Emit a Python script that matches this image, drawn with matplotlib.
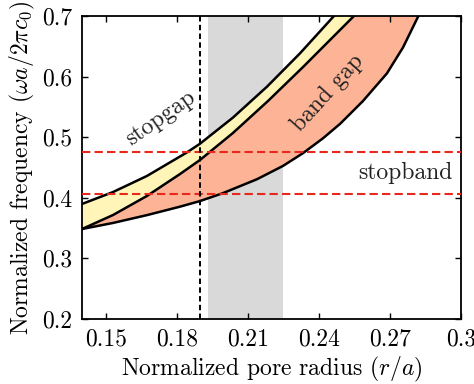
import numpy as np
import matplotlib
matplotlib.use('Agg')
import matplotlib.pyplot as plt

plt.rcParams['font.family'] = 'serif'
plt.rcParams['font.serif'] = ['cmr10']
plt.rcParams['mathtext.fontset'] = 'cm'
plt.rcParams['axes.formatter.use_mathtext'] = True

# Band edges vs normalized pore radius
upper_x = [0.140, 0.1531, 0.1674, 0.1843, 0.1898, 0.2037, 0.2181, 0.2320, 0.2465]
upper_y = [0.3898, 0.4095, 0.4360, 0.4749, 0.4892, 0.5323, 0.5834, 0.6383, 0.7006]

middle_x = [0.140, 0.1531, 0.1674, 0.1814, 0.1898, 0.2037, 0.2185, 0.2333, 0.2548]
middle_y = [0.3485, 0.3716, 0.4030, 0.4393, 0.4624, 0.5069, 0.5597, 0.6158, 0.7000]

lower_x = [0.140, 0.1531, 0.1674, 0.1814, 0.1898, 0.1995, 0.2139, 0.2248, 0.2333,
           0.2417, 0.2489, 0.2586, 0.2687, 0.2755, 0.2820]
lower_y = [0.3485, 0.3585, 0.3714, 0.3854, 0.3946, 0.4077, 0.4307, 0.4525, 0.4737,
           0.4981, 0.5219, 0.5597, 0.6052, 0.6480, 0.7000]

radius_mark = 0.19
window = (0.193, 0.225)
stopband = (0.407, 0.476)

xticks = [0.15, 0.18, 0.21, 0.24, 0.27, 0.30]
xticklabels = ['0.15', '0.18', '0.21', '0.24', '0.27', '0.3']
yticks = [0.2, 0.3, 0.4, 0.5, 0.6, 0.7]
yticklabels = ['0.2', '0.3', '0.4', '0.5', '0.6', '0.7']

fig = plt.figure(figsize=(4.74, 3.84), dpi=100)
ax = fig.add_axes([0.173, 0.1693, 0.7996, 0.789])

ax.axvspan(window[0], window[1], color='#d9d9d9', lw=0, zorder=0)

ax.fill(np.concatenate([upper_x, middle_x[::-1]]),
        np.concatenate([upper_y, middle_y[::-1]]),
        color='#fff5b8', lw=0, zorder=1)
ax.fill(np.concatenate([middle_x, lower_x[::-1]]),
        np.concatenate([middle_y, lower_y[::-1]]),
        color='#fdb496', lw=0, zorder=1)

for xs, ys in [(upper_x, upper_y), (middle_x, middle_y), (lower_x, lower_y)]:
    ax.plot(xs, ys, color='black', lw=1.8, zorder=3,
            solid_capstyle='round', solid_joinstyle='round')

for yv in stopband:
    ax.axhline(yv, color='#e8281c', lw=1.5, ls=(0, (4, 2)), zorder=4)
ax.axvline(radius_mark, color='black', lw=1.4, ls=(0, (2.8, 1.7)), zorder=4)

ax.text(0.173, 0.532, 'stopgap', rotation=35, ha='center', va='center',
        fontsize=17, color='#222222')
ax.text(0.2438, 0.573, 'band gap', rotation=48, ha='center', va='center',
        fontsize=17, color='#222222')
ax.text(0.2966, 0.441, 'stopband', ha='right', va='center',
        fontsize=17, color='#222222')

ax.set_xlim(0.14, 0.30)
ax.set_ylim(0.2, 0.7)
ax.set_xticks(xticks)
ax.set_xticklabels(xticklabels)
ax.set_yticks(yticks)
ax.set_yticklabels(yticklabels)
ax.tick_params(direction='in', top=True, right=True, length=4, width=1,
               labelsize=17, pad=7)
for sp in ax.spines.values():
    sp.set_linewidth(1.3)

ax.set_xlabel(r'Normalized pore radius ($r/a$)', fontsize=17, labelpad=3)
ax.set_ylabel(r'Normalized frequency ($\omega a/2\pi c_0$)', fontsize=17, labelpad=4)

fig.savefig('out.png', dpi=100)
